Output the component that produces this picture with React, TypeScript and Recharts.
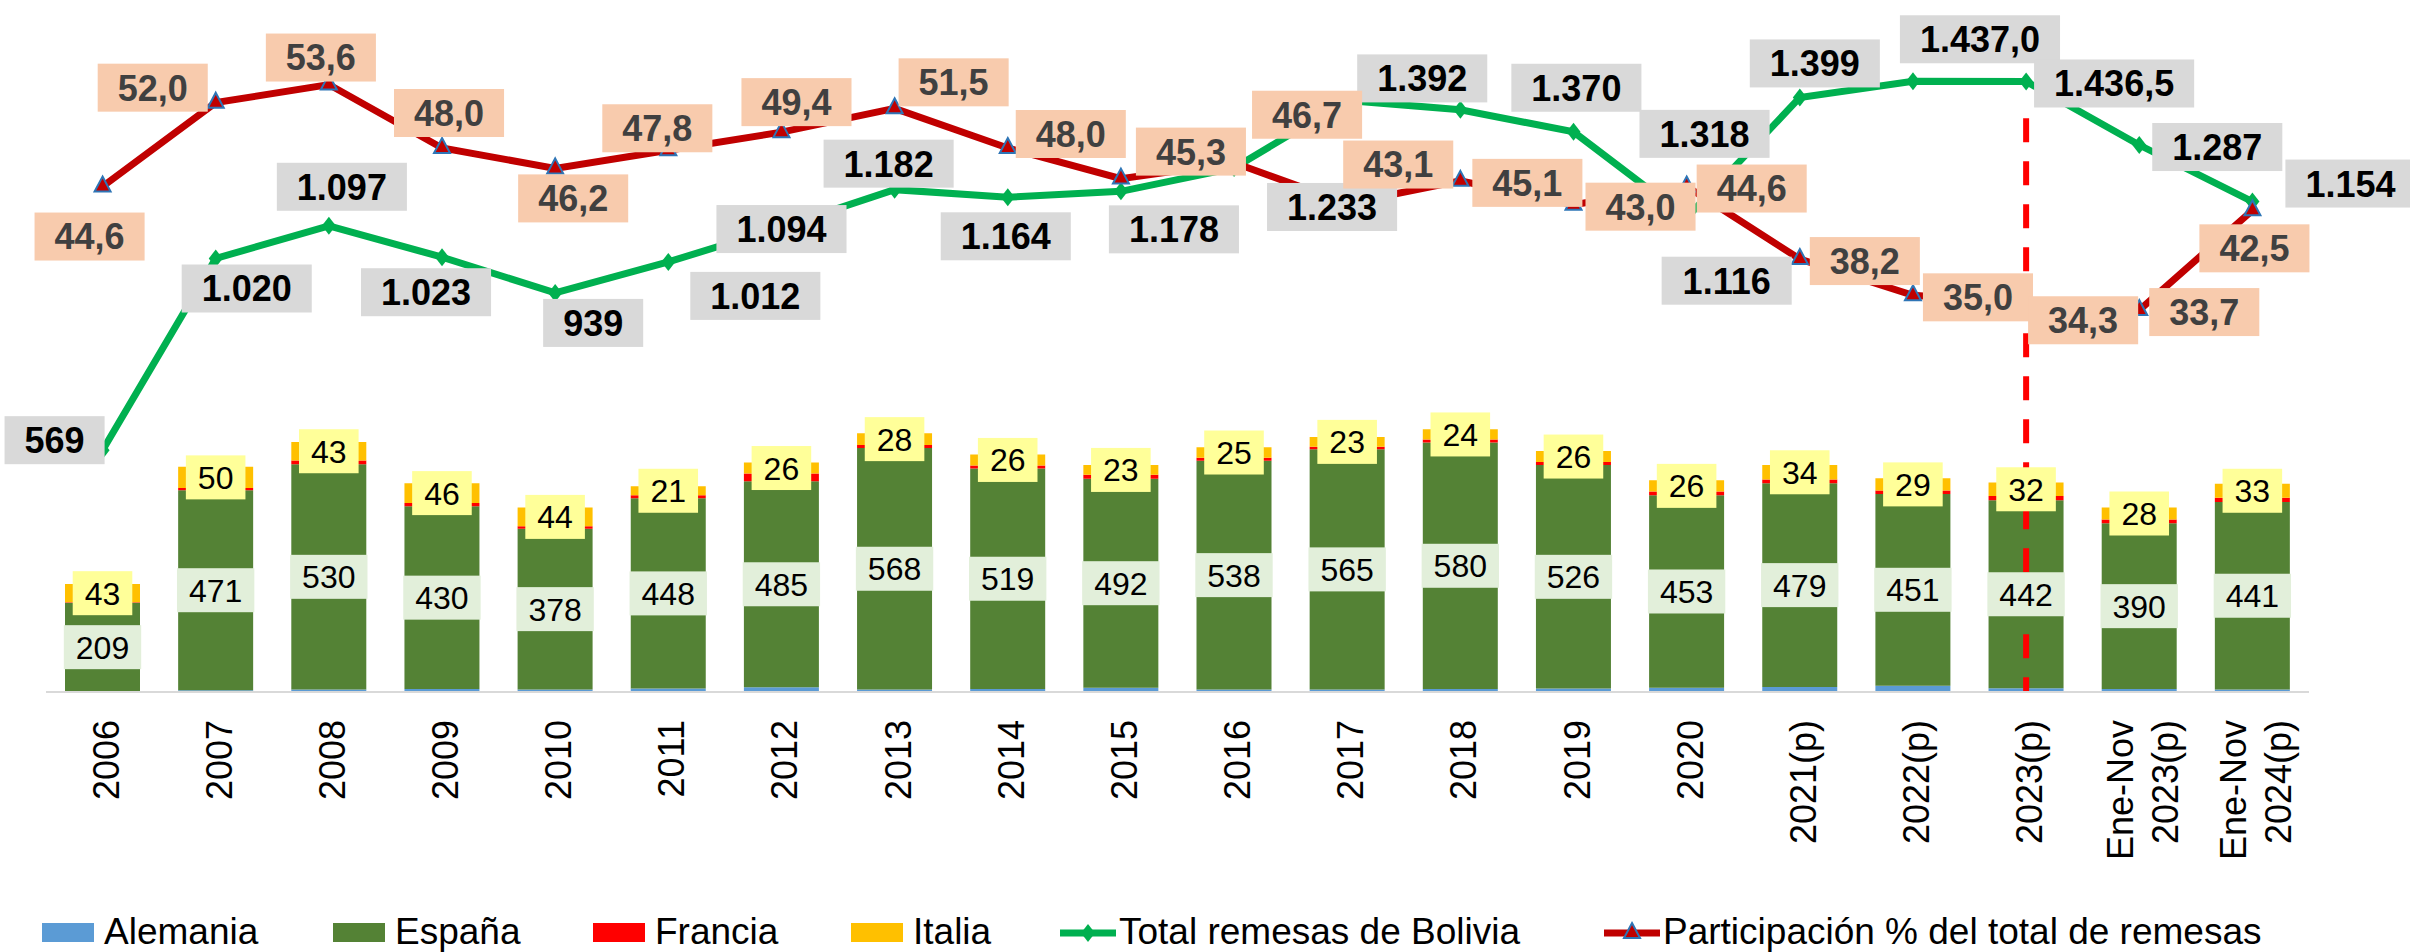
import React from "react";
import {
	Bar,
	ComposedChart,
	LabelList,
	Legend,
	Line,
	ReferenceLine,
	XAxis,
	YAxis,
} from "recharts";

const categories = [
	"2006", "2007", "2008", "2009", "2010", "2011", "2012", "2013", "2014", "2015",
	"2016", "2017", "2018", "2019", "2020", "2021(p)", "2022(p)", "2023(p)",
	"Ene-Nov 2023(p)", "Ene-Nov 2024(p)",
];
const alemania = [1, 4, 6, 7, 6, 8, 11, 6, 7, 10, 6, 6, 7, 8, 10, 12, 15, 9, 7, 6];
const espana = [209, 471, 530, 430, 378, 448, 485, 568, 519, 492, 538, 565, 580, 526, 453, 479, 451, 442, 390, 441];
const francia = [1, 5, 9, 8, 6, 7, 18, 7, 7, 9, 7, 6, 7, 7, 9, 9, 8, 10, 9, 10];
const italia = [43, 50, 43, 46, 44, 21, 26, 28, 26, 23, 25, 23, 24, 26, 26, 34, 29, 32, 28, 33];
const totalRemesas = [569, 1020, 1097, 1023, 939, 1012, 1094, 1182, 1164, 1178, 1233, 1392, 1370, 1318, 1116, 1399, 1437.0, 1436.5, 1287, 1154];
const participacion = [44.6, 52.0, 53.6, 48.0, 46.2, 47.8, 49.4, 51.5, 48.0, 45.3, 46.7, 43.1, 45.1, 43.0, 44.6, 38.2, 35.0, 34.3, 33.7, 42.5];
// years whose total is printed with one decimal
const oneDecimal = ["2022(p)", "2023(p)"];

// axis ranges (both axes hidden)
const TOTAL_MAX = 1600;
const PCT_MAX = 60;
// dashed marker at 2023(p); its top is given on the total axis
const markerCategory = "2023(p)";
const markerTop = 1350;

const rows = categories.map((cat, i) => ({
	cat,
	alemania: alemania[i],
	espana: espana[i],
	francia: francia[i],
	italia: italia[i],
	total: totalRemesas[i],
	part: participacion[i],
}));

// where each line label sits, relative to its point (px)
const totalOffsets = [
	[-48, -10], [31, 30], [13, -39], [-16, 35], [38, 30], [87, 34], [0, 2], [-6, -26],
	[-2, 39], [53, 38], [98, 39], [75, -22], [116, -22], [131, 2], [40, 63], [15, -34],
	[67, -42], [88, 2], [78, 2], [98, -18],
];
const partOffsets = [
	[-13, 50], [-63, -15], [-8, -27], [7, -35], [18, 30], [-11, -22], [15, -30], [59, -26],
	[63, -14], [70, -27], [73, -48], [51, -39], [67, 2], [67, 2], [65, 2], [65, 2],
	[65, 2], [57, 17], [65, 2], [2, 38],
];

const FONT = "'Liberation Sans', Arial, sans-serif";

function fmt(v: number, d: number) {
	const [i, f] = v.toFixed(d).split(".");
	const ii = i.replace(/\B(?=(\d{3})+(?!\d))/g, ".");
	return f ? `${ii},${f}` : ii;
}

function textWidth(s: string, fs: number) {
	let w = 0;
	for (const ch of s) w += ch === "." || ch === "," ? 0.278 : 0.556;
	return w * fs;
}

function boxLabel(
	cx: number,
	cy: number,
	text: string,
	opts: { fs: number; pad: number; h: number; fill: string; color: string; bold?: boolean },
) {
	const w = textWidth(text, opts.fs) + opts.pad * 2;
	return (
		<g>
			<rect x={cx - w / 2} y={cy - opts.h / 2} width={w} height={opts.h} fill={opts.fill} />
			<text
				x={cx}
				y={cy + opts.fs * 0.36}
				textAnchor="middle"
				fontSize={opts.fs}
				fontWeight={opts.bold ? "bold" : "normal"}
				fill={opts.color}
				fontFamily={FONT}
			>
				{text}
			</text>
		</g>
	);
}

const BarBoxLabel = (fill: string) => (props: any) => {
	const { x, y, width, height, value } = props;
	return boxLabel(x + width / 2, y + height / 2, String(value), {
		fs: 32, pad: 12, h: 44, fill, color: "#000",
	});
};

const TotalLabel = (props: any) => {
	const { x, y, value, index } = props;
	const [dx, dy] = totalOffsets[index];
	const d = oneDecimal.includes(categories[index]) ? 1 : 0;
	return boxLabel(x + dx, y + dy, fmt(value, d), {
		fs: 36, pad: 20, h: 48, fill: "#D9D9D9", color: "#000", bold: true,
	});
};

const PartLabel = (props: any) => {
	const { x, y, value, index } = props;
	const [dx, dy] = partOffsets[index];
	return boxLabel(x + dx, y + dy, fmt(value, 1), {
		fs: 36, pad: 20, h: 48, fill: "#F8CBAD", color: "#404040", bold: true,
	});
};

const Diamond = (props: any) => {
	const { cx, cy, index } = props;
	return (
		<path
			key={index}
			d={`M${cx},${cy - 9}L${cx + 7},${cy}L${cx},${cy + 9}L${cx - 7},${cy}Z`}
			fill="#00B050"
		/>
	);
};

const Triangle = (props: any) => {
	const { cx, cy, index } = props;
	return (
		<path
			key={index}
			d={`M${cx},${cy - 10}L${cx + 8},${cy + 5}L${cx - 8},${cy + 5}Z`}
			fill="#C00000"
			stroke="#2E75B6"
			strokeWidth={2}
		/>
	);
};

// full-height reference line, cut down to markerTop on the total axis,
// drawn as separate dashes
const MarkerShape = (props: any) => {
	const { x1, y1, y2 } = props;
	const top = Math.min(y1, y2);
	const bottom = Math.max(y1, y2);
	const yTop = bottom - (bottom - top) * (markerTop / TOTAL_MAX);
	const dashes: number[] = [];
	for (let y = yTop; y < bottom; y += 43) dashes.push(y);
	return (
		<g>
			{dashes.map((y) => (
				<line
					key={y}
					x1={x1}
					y1={y}
					x2={x1}
					y2={Math.min(y + 24, bottom)}
					stroke="#FF0000"
					strokeWidth={6}
				/>
			))}
		</g>
	);
};

const CategoryTick = (props: any) => {
	const { x, y, payload } = props;
	const value = String(payload.value);
	const lines = value.startsWith("Ene-Nov") ? value.split(" ") : [value];
	const n = lines.length;
	return (
		<g transform={`translate(${x + 3},${y + 20}) rotate(-90)`}>
			{lines.map((t, i) => (
				<text
					key={t}
					x={0}
					y={0}
					dy={13 + (i - (n - 1) / 2) * 45}
					textAnchor="end"
					fontSize={36}
					fill="#000"
					fontFamily={FONT}
				>
					{t}
				</text>
			))}
		</g>
	);
};

const legendItems = [
	{ name: "Alemania", color: "#5B9BD5", kind: "box", left: 42 },
	{ name: "España", color: "#548235", kind: "box", left: 333 },
	{ name: "Francia", color: "#FF0000", kind: "box", left: 593 },
	{ name: "Italia", color: "#FFC000", kind: "box", left: 851 },
	{ name: "Total remesas de Bolivia", color: "#00B050", kind: "diamond", left: 1060 },
	{ name: "Participación % del total de remesas", color: "#C00000", kind: "triangle", left: 1604 },
];

const ChartLegend = () => (
	<div style={{ position: "relative", width: 2410, height: 40, fontFamily: FONT }}>
		{legendItems.map((it) => (
			<div
				key={it.name}
				style={{
					position: "absolute",
					left: it.left,
					top: 0,
					height: 40,
					display: "flex",
					alignItems: "center",
					whiteSpace: "nowrap",
				}}
			>
				<svg width={58} height={40}>
					{it.kind === "box" && <rect x={0} y={11} width={52} height={19} fill={it.color} />}
					{it.kind === "diamond" && (
						<g>
							<line x1={0} y1={21} x2={56} y2={21} stroke={it.color} strokeWidth={7} />
							<path d="M28,12L35,21L28,30L21,21Z" fill={it.color} />
						</g>
					)}
					{it.kind === "triangle" && (
						<g>
							<line x1={0} y1={21} x2={56} y2={21} stroke={it.color} strokeWidth={7} />
							<path d="M28,11L36,26L20,26Z" fill="#C00000" stroke="#2E75B6" strokeWidth={2} />
						</g>
					)}
				</svg>
				<span style={{ fontSize: 37, color: "#000", marginLeft: it.kind === "box" ? 4 : 1 }}>
					{it.name}
				</span>
			</div>
		))}
	</div>
);

export default function App() {
	return (
		<div style={{ position: "absolute", left: 0, top: 0, fontFamily: FONT }}>
			<ComposedChart
				width={2410}
				height={952}
				data={rows}
				margin={{ top: 12, right: 101, bottom: 0, left: 46 }}
				barSize={75}
			>
				<XAxis
					dataKey="cat"
					height={220}
					interval={0}
					tick={<CategoryTick />}
					tickLine={false}
					axisLine={{ stroke: "#D9D9D9", strokeWidth: 2 }}
				/>
				<YAxis yAxisId="left" domain={[0, TOTAL_MAX]} allowDataOverflow hide />
				<YAxis yAxisId="right" orientation="right" domain={[0, PCT_MAX]} allowDataOverflow hide />
				<Bar yAxisId="left" stackId="a" dataKey="alemania" fill="#5B9BD5" isAnimationActive={false} />
				<Bar yAxisId="left" stackId="a" dataKey="espana" fill="#548235" isAnimationActive={false}>
					<LabelList dataKey="espana" content={BarBoxLabel("#E2EFDA")} />
				</Bar>
				<Bar yAxisId="left" stackId="a" dataKey="francia" fill="#FF0000" isAnimationActive={false} />
				<Bar yAxisId="left" stackId="a" dataKey="italia" fill="#FFC000" isAnimationActive={false}>
					<LabelList dataKey="italia" content={BarBoxLabel("#FFFF99")} />
				</Bar>
				<Line
					yAxisId="left"
					dataKey="total"
					stroke="#00B050"
					strokeWidth={7}
					dot={Diamond}
					activeDot={false}
					isAnimationActive={false}
				/>
				<Line
					yAxisId="right"
					dataKey="part"
					stroke="#C00000"
					strokeWidth={7}
					dot={Triangle}
					activeDot={false}
					isAnimationActive={false}
				/>
				<Line
					yAxisId="left"
					dataKey="total"
					stroke="none"
					dot={false}
					activeDot={false}
					isAnimationActive={false}
				>
					<LabelList dataKey="total" content={TotalLabel} />
				</Line>
				<Line
					yAxisId="right"
					dataKey="part"
					stroke="none"
					dot={false}
					activeDot={false}
					isAnimationActive={false}
				>
					<LabelList dataKey="part" content={PartLabel} />
				</Line>
				<ReferenceLine yAxisId="left" x={markerCategory} shape={MarkerShape} />
				<Legend
					verticalAlign="bottom"
					content={<ChartLegend />}
					wrapperStyle={{ left: 0, width: 2410, bottom: 0 }}
				/>
			</ComposedChart>
		</div>
	);
}
